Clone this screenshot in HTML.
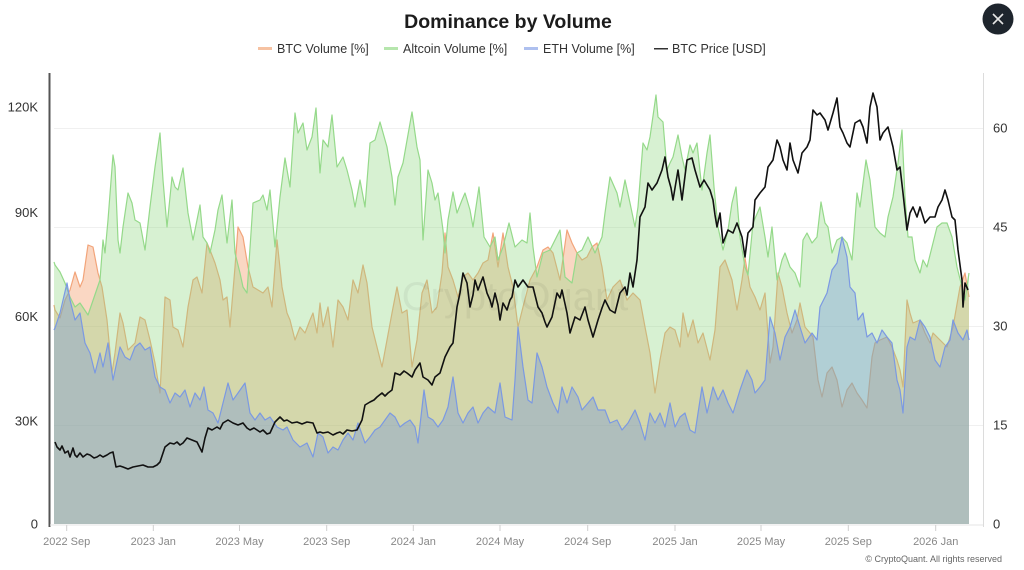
<!DOCTYPE html>
<html><head><meta charset="utf-8"><style>
html,body{margin:0;padding:0;background:#fff;}
body{width:1024px;height:570px;overflow:hidden;position:relative;font-family:"Liberation Sans",Arial,sans-serif;}
svg{position:absolute;left:0;top:0;}
</style></head><body>
<svg width="1024" height="570" viewBox="0 0 1024 570" xmlns="http://www.w3.org/2000/svg" font-family="Liberation Sans, Arial, sans-serif">
<!-- title -->
<text x="508" y="28" text-anchor="middle" font-size="19.5" font-weight="bold" fill="#1c1c1c">Dominance by Volume</text>
<!-- legend -->
<rect x="258" y="47" width="14" height="3" fill="#f6c2a2"/>
<text x="277" y="53" font-size="12.5" fill="#333">BTC Volume [%]</text>
<rect x="384" y="47" width="14" height="3" fill="#b6e6ad"/>
<text x="403" y="53" font-size="12.5" fill="#333">Altcoin Volume [%]</text>
<rect x="524" y="47" width="14" height="3" fill="#aec0ef"/>
<text x="543" y="53" font-size="12.5" fill="#333">ETH Volume [%]</text>
<rect x="654" y="48" width="14" height="1.5" fill="#333"/>
<text x="672" y="53" font-size="12.5" fill="#333">BTC Price [USD]</text>
<!-- close button -->
<circle cx="998" cy="19" r="15.5" fill="#1e252d"/>
<line x1="993" y1="14" x2="1003" y2="24" stroke="#e6e6e6" stroke-width="1.6"/>
<line x1="1003" y1="14" x2="993" y2="24" stroke="#e6e6e6" stroke-width="1.6"/>
<!-- grid -->
<g stroke="#f0f0f0" stroke-width="1">
<line x1="54" y1="128.5" x2="983" y2="128.5"/>
<line x1="54" y1="227.5" x2="983" y2="227.5"/>
<line x1="54" y1="326.5" x2="983" y2="326.5"/>
<line x1="54" y1="425.5" x2="983" y2="425.5"/>
</g>
<!-- BTC volume (orange) -->
<polygon fill="#f0905a" fill-opacity="0.36" points="54,524 54,305 55,310 60,318 65,300 70,290 75,272 80,287 83,280 88,245 93,247 98,273 102,287 107,320 112,373 115,353 120,313 123,323 128,350 135,343 140,317 145,320 150,340 155,363 160,393 165,297 170,300 173,327 178,330 183,347 188,307 193,280 197,277 202,293 207,243 210,250 215,263 220,280 223,300 227,297 230,327 235,267 238,227 243,237 248,267 253,287 258,290 263,293 268,287 272,307 277,240 282,287 287,313 290,320 295,340 300,327 305,333 310,320 313,313 317,333 320,303 323,327 328,307 333,347 338,300 343,307 348,320 353,280 358,293 363,265 367,283 372,327 377,347 382,367 387,340 392,313 397,287 402,313 407,310 412,367 417,340 422,293 427,280 432,313 437,307 442,273 445,233 448,267 453,280 458,297 463,277 468,273 473,280 478,273 483,263 488,260 493,233 498,267 503,233 508,267 513,287 518,327 523,307 530,280 537,267 543,250 548,247 553,253 560,280 567,230 572,243 577,253 582,260 587,257 592,247 597,243 602,267 607,300 613,287 620,280 627,300 633,293 640,300 645,327 650,353 655,393 660,360 665,333 670,327 675,330 680,347 683,313 688,337 693,320 698,343 703,333 710,360 715,330 720,267 725,260 732,280 737,310 742,280 745,258 750,287 755,297 760,310 765,293 770,363 773,347 778,273 782,287 787,313 792,333 797,320 800,303 805,327 810,333 813,337 818,380 822,397 827,373 832,367 837,380 842,407 847,390 852,383 857,393 862,400 867,408 872,357 875,343 880,340 887,337 892,347 897,360 900,370 903,387 907,300 910,313 913,323 920,320 925,333 930,343 933,333 940,340 947,347 953,327 960,287 965,273 969,297 969,524"/>
<polyline fill="none" stroke="#f2a47a" stroke-width="1.2" stroke-linejoin="round" points="54,305 55,310 60,318 65,300 70,290 75,272 80,287 83,280 88,245 93,247 98,273 102,287 107,320 112,373 115,353 120,313 123,323 128,350 135,343 140,317 145,320 150,340 155,363 160,393 165,297 170,300 173,327 178,330 183,347 188,307 193,280 197,277 202,293 207,243 210,250 215,263 220,280 223,300 227,297 230,327 235,267 238,227 243,237 248,267 253,287 258,290 263,293 268,287 272,307 277,240 282,287 287,313 290,320 295,340 300,327 305,333 310,320 313,313 317,333 320,303 323,327 328,307 333,347 338,300 343,307 348,320 353,280 358,293 363,265 367,283 372,327 377,347 382,367 387,340 392,313 397,287 402,313 407,310 412,367 417,340 422,293 427,280 432,313 437,307 442,273 445,233 448,267 453,280 458,297 463,277 468,273 473,280 478,273 483,263 488,260 493,233 498,267 503,233 508,267 513,287 518,327 523,307 530,280 537,267 543,250 548,247 553,253 560,280 567,230 572,243 577,253 582,260 587,257 592,247 597,243 602,267 607,300 613,287 620,280 627,300 633,293 640,300 645,327 650,353 655,393 660,360 665,333 670,327 675,330 680,347 683,313 688,337 693,320 698,343 703,333 710,360 715,330 720,267 725,260 732,280 737,310 742,280 745,258 750,287 755,297 760,310 765,293 770,363 773,347 778,273 782,287 787,313 792,333 797,320 800,303 805,327 810,333 813,337 818,380 822,397 827,373 832,367 837,380 842,407 847,390 852,383 857,393 862,400 867,408 872,357 875,343 880,340 887,337 892,347 897,360 900,370 903,387 907,300 910,313 913,323 920,320 925,333 930,343 933,333 940,340 947,347 953,327 960,287 965,273 969,297"/>
<!-- Altcoin volume (green) -->
<polygon fill="#8fd882" fill-opacity="0.36" points="54,524 54,262 55,265 60,272 65,283 70,297 75,307 80,303 88,315 100,280 103,240 105,253 108,220 113,155 115,167 118,240 120,253 123,227 128,193 132,203 135,220 140,223 145,250 150,207 155,167 160,133 163,180 167,227 172,177 175,187 178,190 183,168 188,213 193,240 200,205 203,237 207,243 210,253 215,230 218,210 222,195 227,243 232,200 235,253 240,273 243,287 247,293 253,203 260,200 263,195 267,210 270,190 275,247 280,197 285,158 290,187 295,113 298,133 303,123 307,150 312,137 316,108 320,173 323,140 328,147 332,115 337,167 343,157 347,170 352,190 355,207 360,180 365,207 370,143 375,140 380,122 387,147 392,177 395,205 398,177 403,163 412,112 417,147 420,160 423,240 428,170 432,183 435,200 438,193 443,230 445,253 448,220 453,192 457,213 462,200 465,193 470,210 473,227 479,187 484,237 490,247 495,237 498,260 503,247 509,223 515,247 522,240 527,243 530,213 533,247 537,277 543,253 550,250 555,240 560,230 565,277 572,283 577,253 582,250 588,237 595,253 602,237 605,213 610,177 617,193 620,207 625,180 630,203 635,227 638,207 643,143 647,150 650,137 656,95 658,117 663,122 667,170 670,163 673,157 678,135 682,157 685,170 690,145 693,153 697,143 702,190 707,153 710,135 714,187 718,227 723,250 728,230 732,203 736,187 740,237 745,267 748,275 753,223 760,207 765,237 768,257 772,227 777,280 782,260 785,253 790,267 795,273 800,287 803,240 807,233 812,243 817,237 821,202 825,223 828,227 832,253 837,240 842,237 847,243 852,260 857,193 860,207 866,160 870,180 875,227 880,233 885,237 888,217 893,197 898,163 902,130 905,197 908,237 912,237 915,260 920,273 923,260 927,267 932,247 937,227 942,223 947,223 952,237 957,267 962,287 965,300 969,273 969,524"/>
<polyline fill="none" stroke="#95d98a" stroke-width="1.2" stroke-linejoin="round" points="54,262 55,265 60,272 65,283 70,297 75,307 80,303 88,315 100,280 103,240 105,253 108,220 113,155 115,167 118,240 120,253 123,227 128,193 132,203 135,220 140,223 145,250 150,207 155,167 160,133 163,180 167,227 172,177 175,187 178,190 183,168 188,213 193,240 200,205 203,237 207,243 210,253 215,230 218,210 222,195 227,243 232,200 235,253 240,273 243,287 247,293 253,203 260,200 263,195 267,210 270,190 275,247 280,197 285,158 290,187 295,113 298,133 303,123 307,150 312,137 316,108 320,173 323,140 328,147 332,115 337,167 343,157 347,170 352,190 355,207 360,180 365,207 370,143 375,140 380,122 387,147 392,177 395,205 398,177 403,163 412,112 417,147 420,160 423,240 428,170 432,183 435,200 438,193 443,230 445,253 448,220 453,192 457,213 462,200 465,193 470,210 473,227 479,187 484,237 490,247 495,237 498,260 503,247 509,223 515,247 522,240 527,243 530,213 533,247 537,277 543,253 550,250 555,240 560,230 565,277 572,283 577,253 582,250 588,237 595,253 602,237 605,213 610,177 617,193 620,207 625,180 630,203 635,227 638,207 643,143 647,150 650,137 656,95 658,117 663,122 667,170 670,163 673,157 678,135 682,157 685,170 690,145 693,153 697,143 702,190 707,153 710,135 714,187 718,227 723,250 728,230 732,203 736,187 740,237 745,267 748,275 753,223 760,207 765,237 768,257 772,227 777,280 782,260 785,253 790,267 795,273 800,287 803,240 807,233 812,243 817,237 821,202 825,223 828,227 832,253 837,240 842,237 847,243 852,260 857,193 860,207 866,160 870,180 875,227 880,233 885,237 888,217 893,197 898,163 902,130 905,197 908,237 912,237 915,260 920,273 923,260 927,267 932,247 937,227 942,223 947,223 952,237 957,267 962,287 965,300 969,273"/>
<!-- ETH volume (blue) -->
<polygon fill="#6a8fdc" fill-opacity="0.35" points="54,524 54,330 55,328 60,313 67,283 70,300 75,320 80,313 85,343 90,353 95,373 100,353 103,367 108,343 113,380 120,347 125,357 130,360 135,347 140,343 145,350 150,347 155,377 160,387 165,390 170,403 175,393 180,397 185,390 190,407 195,393 200,400 204,387 208,410 213,413 218,423 223,403 228,383 233,400 238,393 245,383 250,413 255,420 260,413 265,420 270,417 277,427 283,430 287,427 293,440 300,447 307,443 313,457 318,433 323,437 328,453 333,447 338,450 343,440 348,433 353,440 358,423 365,443 370,437 375,430 380,427 385,420 390,413 395,417 400,427 405,423 410,420 415,427 418,443 424,390 428,417 433,420 438,427 443,420 448,407 453,377 458,413 463,423 468,413 473,407 478,423 483,413 488,407 495,413 500,383 505,417 512,420 515,380 518,327 523,367 528,400 532,403 537,353 542,367 547,387 553,403 558,413 562,387 567,403 572,387 578,397 582,410 588,403 593,397 598,410 605,410 610,423 617,420 622,430 628,423 635,410 640,423 645,440 650,413 655,423 660,413 665,427 670,403 675,427 680,417 685,413 690,430 695,433 702,387 707,413 713,387 718,400 723,390 728,403 733,413 740,390 747,370 752,380 755,393 760,387 765,380 770,317 775,333 780,360 785,337 790,327 795,310 800,327 805,343 812,333 817,340 820,307 827,293 832,270 837,263 842,237 847,257 850,287 855,293 858,320 863,313 867,337 872,333 877,343 882,330 887,337 892,343 897,380 900,390 903,413 907,347 910,337 915,340 920,320 925,327 930,337 935,360 940,367 945,347 950,340 953,320 958,333 963,340 967,330 969,340 969,524"/>
<polyline fill="none" stroke="#7b99e2" stroke-width="1.2" stroke-linejoin="round" points="54,330 55,328 60,313 67,283 70,300 75,320 80,313 85,343 90,353 95,373 100,353 103,367 108,343 113,380 120,347 125,357 130,360 135,347 140,343 145,350 150,347 155,377 160,387 165,390 170,403 175,393 180,397 185,390 190,407 195,393 200,400 204,387 208,410 213,413 218,423 223,403 228,383 233,400 238,393 245,383 250,413 255,420 260,413 265,420 270,417 277,427 283,430 287,427 293,440 300,447 307,443 313,457 318,433 323,437 328,453 333,447 338,450 343,440 348,433 353,440 358,423 365,443 370,437 375,430 380,427 385,420 390,413 395,417 400,427 405,423 410,420 415,427 418,443 424,390 428,417 433,420 438,427 443,420 448,407 453,377 458,413 463,423 468,413 473,407 478,423 483,413 488,407 495,413 500,383 505,417 512,420 515,380 518,327 523,367 528,400 532,403 537,353 542,367 547,387 553,403 558,413 562,387 567,403 572,387 578,397 582,410 588,403 593,397 598,410 605,410 610,423 617,420 622,430 628,423 635,410 640,423 645,440 650,413 655,423 660,413 665,427 670,403 675,427 680,417 685,413 690,430 695,433 702,387 707,413 713,387 718,400 723,390 728,403 733,413 740,390 747,370 752,380 755,393 760,387 765,380 770,317 775,333 780,360 785,337 790,327 795,310 800,327 805,343 812,333 817,340 820,307 827,293 832,270 837,263 842,237 847,257 850,287 855,293 858,320 863,313 867,337 872,333 877,343 882,330 887,337 892,343 897,380 900,390 903,413 907,347 910,337 915,340 920,320 925,327 930,337 935,360 940,367 945,347 950,340 953,320 958,333 963,340 967,330 969,340"/>
<!-- watermark -->
<text x="515" y="310" text-anchor="middle" font-size="40" fill="#000" fill-opacity="0.05">CryptoQuant</text>
<!-- BTC price -->
<polyline fill="none" stroke="#111" stroke-width="1.6" stroke-linejoin="round" points="55,442 57,447 60,450 62,446 65,453 68,451 70,457 73,448 75,455 77,457 80,453 83,457 87,454 90,455 94,458 97,457 100,455 103,457 107,455 110,453 113,452 116,467 120,466 123,467 128,469 133,467 138,466 143,465 148,467 153,467 157,465 160,462 165,447 170,443 174,444 177,442 180,445 183,443 187,438 192,440 197,442 202,452 205,438 208,428 212,430 217,427 220,429 223,423 228,420 233,423 238,425 243,423 247,428 250,430 254,428 257,430 260,432 263,430 267,434 270,433 275,422 280,417 284,421 287,420 292,423 297,422 302,424 307,422 313,423 317,433 320,432 323,433 328,432 333,435 337,433 340,432 343,434 347,430 352,431 357,430 362,420 365,405 370,402 374,400 377,397 382,393 385,396 388,393 392,390 395,373 400,375 404,371 407,373 412,377 415,370 420,363 423,377 428,380 432,385 435,377 440,373 445,357 450,347 453,343 457,307 460,293 463,273 467,283 470,307 473,295 475,280 478,290 481,282 483,277 487,293 490,300 492,307 495,293 498,305 500,320 503,303 507,310 510,300 512,297 515,280 518,287 523,280 528,287 533,287 538,307 542,313 545,322 547,327 552,317 557,293 560,298 562,290 567,313 570,333 575,317 580,320 585,307 588,320 593,337 598,320 602,308 605,300 610,310 615,313 620,293 625,287 627,295 630,273 633,287 637,260 640,217 645,207 648,183 652,190 657,183 662,170 665,157 668,177 671,188 673,200 678,170 682,200 687,160 692,158 695,170 700,187 704,180 707,185 710,190 713,200 715,215 717,227 720,213 723,243 728,230 733,233 737,223 742,237 745,257 748,233 753,227 755,200 760,193 765,187 768,167 773,160 777,140 780,147 783,160 787,170 790,143 793,160 798,173 802,153 807,147 810,140 813,110 817,115 820,113 825,120 828,130 833,113 837,98 840,127 843,133 847,143 850,147 855,123 860,120 863,127 867,143 870,107 873,93 877,107 880,140 883,133 888,127 893,147 897,170 900,167 903,193 907,230 910,213 913,207 917,217 920,207 925,223 930,217 935,217 938,207 942,200 945,190 948,200 952,217 955,220 958,250 962,280 963,307 965,283 968,290"/>
<!-- axes -->
<line x1="49.5" y1="73" x2="49.5" y2="527" stroke="#555" stroke-width="2"/>
<line x1="983.5" y1="73" x2="983.5" y2="527" stroke="#dcdcdc" stroke-width="1"/>
<line x1="50" y1="525" x2="983" y2="525" stroke="#e4e4e4" stroke-width="1"/>
<g stroke="#cfcfcf" stroke-width="1">
<line x1="66.7" y1="525" x2="66.7" y2="531"/>
<line x1="153.3" y1="525" x2="153.3" y2="531"/>
<line x1="239.5" y1="525" x2="239.5" y2="531"/>
<line x1="326.7" y1="525" x2="326.7" y2="531"/>
<line x1="413.3" y1="525" x2="413.3" y2="531"/>
<line x1="500" y1="525" x2="500" y2="531"/>
<line x1="587.7" y1="525" x2="587.7" y2="531"/>
<line x1="675" y1="525" x2="675" y2="531"/>
<line x1="761" y1="525" x2="761" y2="531"/>
<line x1="848.3" y1="525" x2="848.3" y2="531"/>
<line x1="935.7" y1="525" x2="935.7" y2="531"/>
</g>
<!-- left labels -->
<g font-size="13" fill="#333" text-anchor="end">
<text x="38" y="111.5">120K</text>
<text x="38" y="217">90K</text>
<text x="38" y="321">60K</text>
<text x="38" y="425.5">30K</text>
<text x="38" y="528.5">0</text>
</g>
<!-- right labels -->
<g font-size="13" fill="#333" text-anchor="start">
<text x="993" y="132.5">60</text>
<text x="993" y="231.5">45</text>
<text x="993" y="330.5">30</text>
<text x="993" y="429.5">15</text>
<text x="993" y="528.5">0</text>
</g>
<!-- x labels -->
<g font-size="11" fill="#888" text-anchor="middle">
<text x="66.7" y="545">2022 Sep</text>
<text x="153.3" y="545">2023 Jan</text>
<text x="239.5" y="545">2023 May</text>
<text x="326.7" y="545">2023 Sep</text>
<text x="413.3" y="545">2024 Jan</text>
<text x="500" y="545">2024 May</text>
<text x="587.7" y="545">2024 Sep</text>
<text x="675" y="545">2025 Jan</text>
<text x="761" y="545">2025 May</text>
<text x="848.3" y="545">2025 Sep</text>
<text x="935.7" y="545">2026 Jan</text>
</g>
<text x="1002" y="562" text-anchor="end" font-size="9" fill="#666">© CryptoQuant. All rights reserved</text>
</svg>
</body></html>
